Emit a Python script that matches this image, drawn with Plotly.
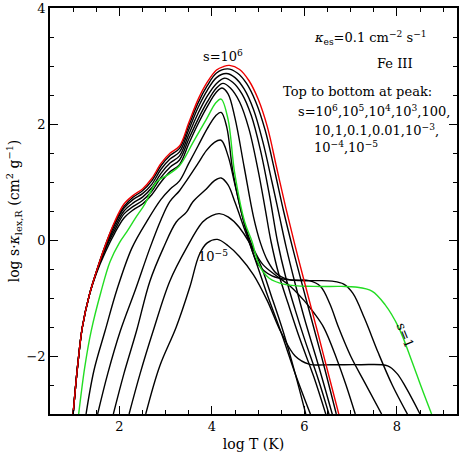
import plotly.graph_objects as go

FONT = "DejaVu Serif"

# log T (x) and log s*kappa (y), one pair of lists per s value
x_1e6 = [1.0, 1.1, 1.2, 1.35, 1.5, 1.7, 1.9, 2.1, 2.3, 2.5, 2.7, 2.9, 3.1, 3.3, 3.5, 3.7, 3.9, 4.1, 4.25, 4.38,
         4.6, 4.8, 5.0, 5.2, 5.4, 5.6, 5.8, 6.0, 6.3, 6.5, 6.76]
y_1e6 = [-3.0, -2.15, -1.5, -0.95, -0.55, -0.08, 0.32, 0.62, 0.77, 0.88, 1.06, 1.32, 1.50, 1.62, 2.02, 2.42, 2.72, 2.93, 2.99, 3.01,
         2.94, 2.75, 2.43, 1.95, 1.25, 0.55, -0.10, -0.72, -1.63, -2.25, -3.05]

x_1e5 = [1.0, 1.1, 1.2, 1.35, 1.5, 1.7, 1.9, 2.1, 2.3, 2.5, 2.7, 2.9, 3.1, 3.3, 3.5, 3.7, 3.9, 4.1, 4.34,
         4.55, 4.75, 4.95, 5.15, 5.35, 5.55, 5.75, 5.95, 6.25, 6.45, 6.69]
y_1e5 = [-3.0, -2.15, -1.5, -0.95, -0.55, -0.08, 0.30, 0.58, 0.74, 0.85, 1.02, 1.28, 1.46, 1.58, 1.97, 2.36, 2.66, 2.88, 2.95,
         2.88, 2.70, 2.38, 1.90, 1.22, 0.50, -0.15, -0.76, -1.65, -2.25, -3.0]

x_1e4 = [1.0, 1.1, 1.2, 1.35, 1.5, 1.7, 1.9, 2.1, 2.3, 2.5, 2.7, 2.9, 3.1, 3.3, 3.5, 3.7, 3.9, 4.1, 4.31,
         4.5, 4.7, 4.9, 5.1, 5.3, 5.45, 5.6, 5.8, 6.0, 6.3, 6.62]
y_1e4 = [-3.0, -2.15, -1.5, -0.95, -0.55, -0.1, 0.27, 0.55, 0.70, 0.80, 0.96, 1.22, 1.40, 1.52, 1.90, 2.28, 2.58, 2.80, 2.87,
         2.80, 2.60, 2.25, 1.70, 1.00, 0.45, -0.10, -0.75, -1.35, -2.15, -3.05]

x_1e3 = [1.0, 1.1, 1.2, 1.35, 1.5, 1.7, 1.9, 2.1, 2.3, 2.5, 2.7, 2.9, 3.1, 3.3, 3.5, 3.7, 3.9, 4.1, 4.27,
         4.45, 4.65, 4.85, 5.05, 5.25, 5.42, 5.6, 5.8, 6.0, 6.3, 6.55]
y_1e3 = [-3.0, -2.15, -1.5, -0.95, -0.56, -0.12, 0.22, 0.50, 0.64, 0.74, 0.90, 1.15, 1.33, 1.45, 1.82, 2.18, 2.48, 2.70, 2.79,
         2.72, 2.52, 2.15, 1.55, 0.75, -0.03, -0.65, -1.2, -1.7, -2.4, -3.05]

x_100 = [1.0, 1.1, 1.2, 1.35, 1.5, 1.7, 1.9, 2.1, 2.3, 2.5, 2.7, 2.9, 3.1, 3.3, 3.5, 3.7, 3.9, 4.1, 4.24,
         4.4, 4.6, 4.8, 5.0, 5.15, 5.28, 5.45, 5.65, 5.9, 6.2, 6.47]
y_100 = [-3.0, -2.15, -1.5, -0.95, -0.57, -0.15, 0.17, 0.45, 0.58, 0.68, 0.84, 1.08, 1.26, 1.38, 1.74, 2.08, 2.38, 2.62, 2.70,
         2.62, 2.38, 1.92, 1.20, 0.55, -0.03, -0.60, -1.1, -1.7, -2.35, -3.02]

x_10 = [1.0, 1.1, 1.2, 1.35, 1.5, 1.7, 1.9, 2.1, 2.3, 2.5, 2.7, 2.9, 3.1, 3.3, 3.5, 3.7, 3.9, 4.1, 4.22,
        4.35, 4.5, 4.7, 4.9, 5.05, 5.2, 5.4, 5.6, 5.9, 6.3, 6.6, 6.85, 7.05, 7.3, 7.6, 7.9, 8.24]
y_10 = [-3.0, -2.15, -1.5, -0.95, -0.58, -0.2, 0.12, 0.38, 0.52, 0.62, 0.78, 1.00, 1.18, 1.30, 1.66, 2.00, 2.30, 2.55, 2.62,
        2.52, 2.10, 1.25, 0.40, -0.05, -0.35, -0.58, -0.67, -0.70, -0.70, -0.71, -0.76, -0.92, -1.35, -1.95, -2.50, -3.02]

x_1 = [1.12, 1.25, 1.39, 1.6, 1.8, 2.0, 2.16, 2.35, 2.55, 2.8, 3.02, 3.3, 3.59, 3.88, 4.09, 4.2,
       4.35, 4.49, 4.71, 4.87, 5.02, 5.24, 5.6, 6.2, 6.8, 7.1, 7.46, 7.74, 8.04, 8.32, 8.53, 8.75]
y_1 = [-3.0, -2.2, -1.57, -0.9, -0.37, -0.05, 0.14, 0.38, 0.62, 1.0, 1.11, 1.28, 1.68, 2.08, 2.37, 2.43,
       2.08, 1.17, 0.31, -0.03, -0.43, -0.66, -0.77, -0.80, -0.80, -0.81, -0.88, -1.11, -1.51, -2.08, -2.54, -3.0]

x_0p1 = [1.28, 1.45, 1.69, 1.95, 2.27, 2.6, 2.9, 3.1, 3.3, 3.5, 3.7, 3.9, 4.08, 4.2,
         4.32, 4.45, 4.6, 4.8, 5.0, 5.3, 5.7, 6.1, 6.35, 6.55, 6.74, 7.0, 7.3, 7.67]
y_0p1 = [-3.0, -2.25, -1.57, -0.85, -0.14, 0.33, 0.70, 0.88, 1.02, 1.32, 1.62, 1.92, 2.14, 2.2,
         1.95, 1.2, 0.6, 0.0, -0.42, -0.62, -0.69, -0.70, -0.80, -1.1, -1.51, -2.0, -2.45, -3.0]

x_0p01 = [1.53, 1.75, 2.02, 2.35, 2.66, 2.9, 3.09, 3.3, 3.45, 3.7, 3.88, 4.05, 4.2,
          4.35, 4.5, 4.7, 4.9, 5.1, 5.4, 5.7, 6.0, 6.2, 6.42, 6.7, 6.9, 7.1]
y_0p01 = [-3.0, -2.3, -1.57, -0.85, -0.14, 0.35, 0.66, 0.85, 1.02, 1.32, 1.54, 1.68, 1.72,
          1.45, 0.95, 0.30, -0.15, -0.42, -0.62, -0.80, -1.05, -1.25, -1.51, -2.05, -2.5, -3.0]

x_1em3 = [1.87, 2.1, 2.37, 2.66, 2.95, 3.23, 3.45, 3.59, 3.88, 4.05, 4.2,
          4.35, 4.5, 4.7, 4.9, 5.2, 5.5, 5.8, 6.13]
y_1em3 = [-3.0, -2.3, -1.57, -0.71, -0.14, 0.31, 0.48, 0.66, 0.88, 1.02, 1.07,
          0.95, 0.65, 0.2, -0.25, -0.95, -1.6, -2.3, -3.0]

x_1em4 = [2.21, 2.45, 2.73, 3.09, 3.45, 3.8, 4.0, 4.16,
          4.35, 4.59, 5.02, 5.3, 5.55, 5.8, 6.03]
y_1em4 = [-3.0, -2.3, -1.57, -0.71, -0.14, 0.31, 0.42, 0.455,
          0.40, 0.22, -0.37, -1.0, -1.6, -2.3, -3.0]

x_1em5 = [2.57, 2.87, 3.23, 3.52, 3.73, 3.9, 4.12,
          4.35, 4.59, 4.9, 5.2, 5.5, 5.8, 6.1, 6.6, 7.2, 7.8, 8.0, 8.2, 8.5]
y_1em5 = [-3.0, -2.18, -1.5, -0.82, -0.25, -0.05, 0.01,
          -0.1, -0.28, -0.6, -1.05, -1.6, -2.0, -2.14, -2.15, -2.15, -2.17, -2.3, -2.55, -3.0]

curves = [
    (x_1e5, y_1e5, "black"), (x_1e4, y_1e4, "black"), (x_1e3, y_1e3, "black"), (x_100, y_100, "black"),
    (x_10, y_10, "black"), (x_0p1, y_0p1, "black"), (x_0p01, y_0p01, "black"), (x_1em3, y_1em3, "black"),
    (x_1em4, y_1em4, "black"), (x_1em5, y_1em5, "black"), (x_1, y_1, "#22dd22"), (x_1e6, y_1e6, "#ee0000"),
]

fig = go.Figure()
for xs, ys, color in curves:
    fig.add_trace(go.Scatter(x=xs, y=ys, mode="lines", line=dict(color=color, width=1.4, shape="spline", smoothing=1.0),
                             showlegend=False, hoverinfo="skip"))

txt = dict(family=FONT, size=13, color="black")
notes = [
    (4.25, 3.17, "s=10<sup>6</sup>", "center", 0),
    (4.02, -0.27, "10<sup>−5</sup>", "center", 0),
    (8.18, -1.65, "s=1", "center", 68),
]
for x, y, text, align, angle in notes:
    fig.add_annotation(x=x, y=y, text=text, showarrow=False, font=txt, textangle=angle, xanchor=align)

right_text = [
    (0.787, 35, "<i>κ</i><sub>es</sub>=0.1 cm<sup>−2</sup> s<sup>−1</sup>", "center"),
    (0.897, 60, "Fe III", "right"),
    (0.567, 89, "Top to bottom at peak:", "left"),
    (0.604, 108, "s=10<sup>6</sup>,10<sup>5</sup>,10<sup>4</sup>,10<sup>3</sup>,100,", "left"),
    (0.643, 127, "10,1,0.1,0.01,10<sup>−3</sup>,", "left"),
    (0.643, 145, "10<sup>−4</sup>,10<sup>−5</sup>", "left"),
]
for fx, py, text, anchor in right_text:
    fig.add_annotation(xref="paper", yref="paper", x=fx, y=(413.7 - py) / 409.2, text=text, showarrow=False,
                       font=txt, xanchor=anchor, yanchor="middle")

axis_common = dict(showgrid=False, zeroline=False, showline=True, linecolor="black", linewidth=1.5, mirror="ticks",
                   ticks="inside", ticklen=8, tickwidth=1, tickcolor="black", ticklabeloverflow="allow",
                   tickfont=dict(family=FONT, size=13, color="black"))
fig.update_xaxes(range=[0.5, 9.3], tickvals=[2, 4, 6, 8],
                 minor=dict(dtick=0.5, tick0=0.5, ticks="inside", ticklen=4, tickcolor="black"),
                 title=dict(text="log T (K)", font=dict(family=FONT, size=14), standoff=6), **axis_common)
fig.update_yaxes(range=[-3, 4], tickvals=[-2, 0, 2, 4],
                 minor=dict(dtick=0.5, tick0=0, ticks="inside", ticklen=4, tickcolor="black"),
                 title=dict(text="log s·<i>κ</i><sub>lex,R</sub> (cm<sup>2</sup> g<sup>−1</sup>)",
                            font=dict(family=FONT, size=14), standoff=4), **axis_common)
fig.update_layout(width=460, height=452, margin=dict(l=50, r=1, t=4, b=38), plot_bgcolor="white",
                  paper_bgcolor="white", font=dict(family=FONT, size=13, color="black"))

fig.write_html("out.html", config={"displayModeBar": False},
               post_script="document.body.style.margin = '0';")
